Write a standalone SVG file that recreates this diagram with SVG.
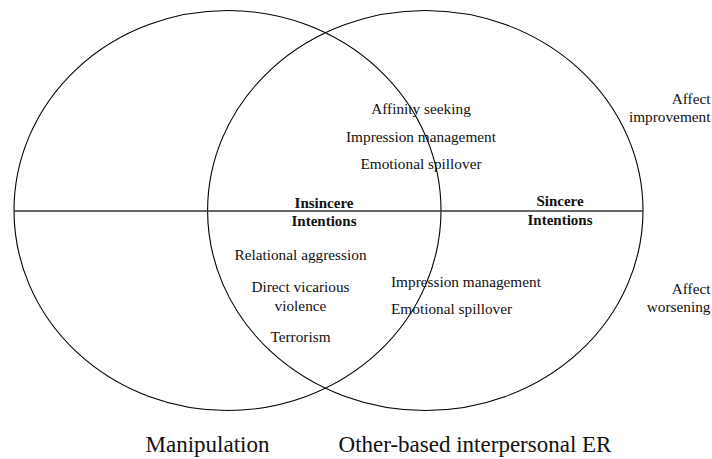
<svg xmlns="http://www.w3.org/2000/svg" width="712" height="459" viewBox="0 0 712 459">
  <style>
    .set { fill: none; stroke: #000; stroke-width: 1.1; }
    .axis { stroke: #333; stroke-width: 1.4; }
    .item { font-size: 15.3px; }
    .head { font-size: 15px; font-weight: bold; }
    .title { font-size: 23px; }
    .mid { text-anchor: middle; }
    .end { text-anchor: end; }
  </style>
  <rect width="712" height="459" fill="#fff"/>

  <g font-family="Liberation Serif, Times New Roman, DejaVu Serif, serif" fill="#111">
  <!-- the two overlapping sets -->
  <g id="manipulation">
    <ellipse class="set" cx="227.5" cy="210.5" rx="213.5" ry="200"/>
    <text class="title mid" x="207.5" y="452">Manipulation</text>
  </g>
  <g id="other-based-er">
    <ellipse class="set" cx="425.3" cy="210.5" rx="217.7" ry="200"/>
    <text class="title mid" x="475" y="452">Other-based interpersonal ER</text>
  </g>

  <!-- divider between improving and worsening affect -->
  <g id="connectors">
    <line class="axis" x1="14" y1="211" x2="643" y2="211"/>
  </g>

  <g id="insincere">
    <text class="head mid" x="324" y="208">Insincere</text>
    <text class="head mid" x="324" y="226">Intentions</text>
  </g>
  <g id="sincere">
    <text class="head mid" x="560" y="206">Sincere</text>
    <text class="head mid" x="560" y="225">Intentions</text>
  </g>

  <g id="upper-items">
    <text class="item mid" x="421" y="114">Affinity seeking</text>
    <text class="item mid" x="421" y="141.5">Impression management</text>
    <text class="item mid" x="421" y="169">Emotional spillover</text>
  </g>

  <g id="lower-insincere-items">
    <text class="item mid" x="300.5" y="260">Relational aggression</text>
    <text class="item mid" x="300.5" y="291.5">Direct vicarious</text>
    <text class="item mid" x="300.5" y="311">violence</text>
    <text class="item mid" x="300.5" y="341.5">Terrorism</text>
  </g>

  <g id="lower-sincere-items">
    <text class="item" x="391" y="286.5">Impression management</text>
    <text class="item" x="391" y="314">Emotional spillover</text>
  </g>

  <g id="affect-improvement">
    <text class="item end" x="710.5" y="104">Affect</text>
    <text class="item end" x="710.5" y="121.5">improvement</text>
  </g>
  <g id="affect-worsening">
    <text class="item end" x="710.5" y="294">Affect</text>
    <text class="item end" x="710.5" y="311.5">worsening</text>
  </g>
  </g>
</svg>
